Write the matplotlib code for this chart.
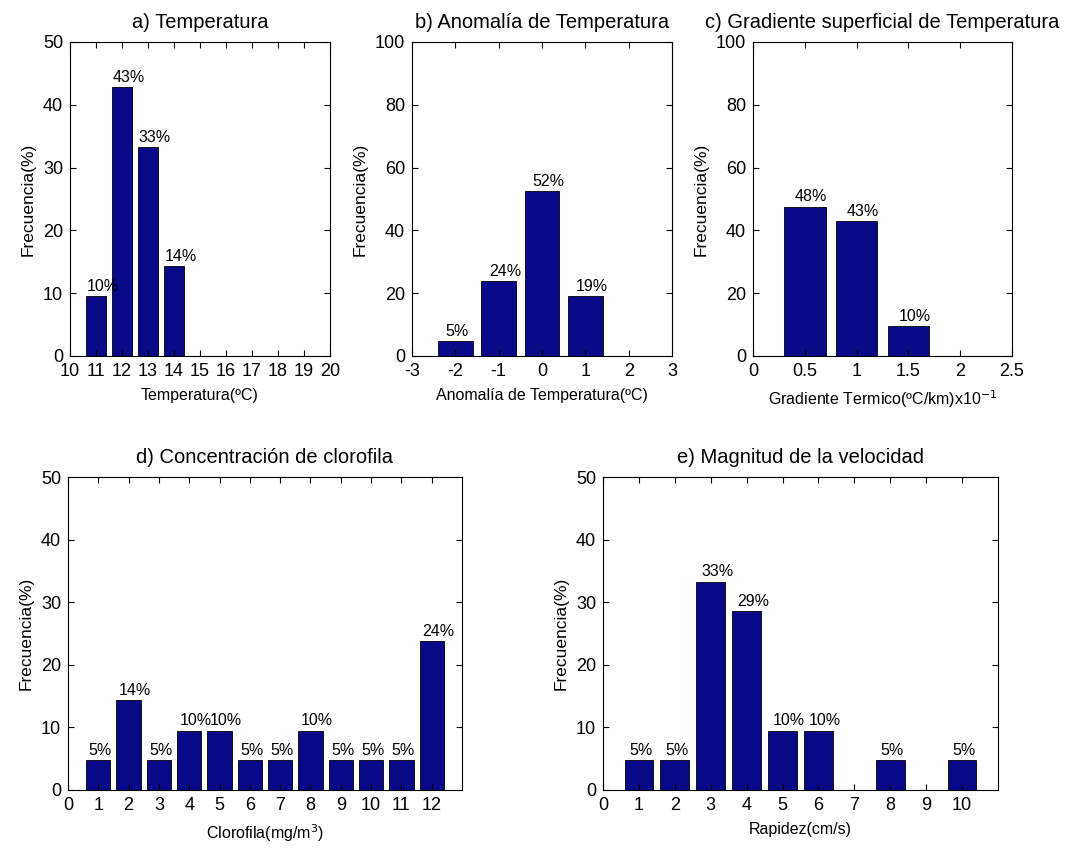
import matplotlib
matplotlib.use("Agg")
import matplotlib.pyplot as plt

plt.rcParams['font.family'] = ['Liberation Sans', 'DejaVu Sans']

# a) Temperatura
temp_x = [11, 12, 13, 14]
temp_y = [9.5, 42.9, 33.3, 14.3]

# b) Anomalia de Temperatura
anom_x = [-2, -1, 0, 1]
anom_y = [4.8, 23.8, 52.4, 19.0]

# c) Gradiente superficial
grad_x = [0.5, 1.0, 1.5]
grad_y = [47.6, 42.9, 9.5]

# d) Clorofila
clo_x = [1, 2, 3, 4, 5, 6, 7, 8, 9, 10, 11, 12]
clo_y = [4.8, 14.3, 4.8, 9.5, 9.5, 4.8, 4.8, 9.5, 4.8, 4.8, 4.8, 23.8]

# e) Rapidez
vel_x = [1, 2, 3, 4, 5, 6, 8, 10]
vel_y = [4.8, 4.8, 33.3, 28.6, 9.5, 9.5, 4.8, 4.8]

W, H = 1079, 849
bar_color = '#0a0a88'

fig = plt.figure(figsize=(W / 100, H / 100), dpi=100)
fig.patch.set_facecolor('white')


def make_ax(left, right, top, bottom):
    return fig.add_axes([left / W, (H - bottom) / H, (right - left) / W, (bottom - top) / H])


def hist_panel(ax, x, y, width, xlim, xticks, ylim, yticks, title, xlabel):
    ax.bar(x, y, width=width, color=bar_color, edgecolor='black', linewidth=0.6)
    for xi, yi in zip(x, y):
        ax.annotate(f"{int(yi + 0.5)}%", (xi, yi), xytext=(-7, 1.5),
                    textcoords='offset points', ha='left', va='bottom', fontsize=11.5)
    ax.set_xlim(*xlim)
    ax.set_ylim(*ylim)
    ax.set_xticks(xticks)
    ax.set_xticklabels([f"{t:g}" for t in xticks])
    ax.set_yticks(yticks)
    ax.tick_params(direction='in', top=True, right=True, labelsize=13, length=4, pad=5)
    ax.set_title(title, fontsize=14.5, pad=10)
    ax.set_xlabel(xlabel, fontsize=11.5, labelpad=6)
    ax.set_ylabel('Frecuencia(%)', fontsize=12.5, labelpad=5)
    for s in ax.spines.values():
        s.set_linewidth(0.8)


ax_a = make_ax(70, 330, 42, 356)
hist_panel(ax_a, temp_x, temp_y, 0.8, (10, 20), list(range(10, 21)), (0, 50),
           range(0, 51, 10), 'a) Temperatura', 'Temperatura(ºC)')

ax_b = make_ax(412, 672, 42, 356)
hist_panel(ax_b, anom_x, anom_y, 0.8, (-3, 3), list(range(-3, 4)), (0, 100),
           range(0, 101, 20), 'b) Anomalía de Temperatura', 'Anomalía de Temperatura(ºC)')

ax_c = make_ax(753, 1012, 42, 356)
hist_panel(ax_c, grad_x, grad_y, 0.4, (0, 2.5), [0, 0.5, 1, 1.5, 2, 2.5], (0, 100),
           range(0, 101, 20), 'c) Gradiente superficial de Temperatura',
           'Gradiente Termico(ºC/km)x10$^{-1}$')

ax_d = make_ax(68, 462, 477, 790)
hist_panel(ax_d, clo_x, clo_y, 0.8, (0, 13), list(range(0, 13)), (0, 50),
           range(0, 51, 10), 'd) Concentración de clorofila', 'Clorofila(mg/m$^3$)')

ax_e = make_ax(603, 998, 477, 790)
hist_panel(ax_e, vel_x, vel_y, 0.8, (0, 11), list(range(0, 11)), (0, 50),
           range(0, 51, 10), 'e) Magnitud de la velocidad', 'Rapidez(cm/s)')

fig.savefig('out.png', dpi=100)
